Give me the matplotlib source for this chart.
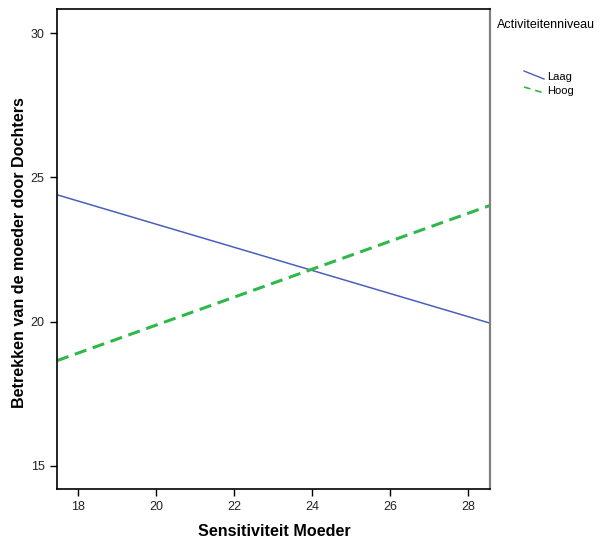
import matplotlib
matplotlib.use("Agg")
import matplotlib.pyplot as plt
from matplotlib.lines import Line2D

plt.rcParams['font.family'] = ['Liberation Sans', 'DejaVu Sans']

sens = [17.45, 28.56]
laag = [24.40, 19.95]
hoog = [18.65, 24.03]
xticks = [18, 20, 22, 24, 26, 28]
yticks = [15, 20, 25, 30]
series_names = ["Laag", "Hoog"]
legend_title = "Activiteitenniveau"

W, H = 609, 540
fig = plt.figure(figsize=(W/100, H/100), dpi=100)
ax = fig.add_axes([57/W, 1-489/H, (490-57)/W, (489-9.3)/H])

blue = "#4a5fba"
green = "#2fb84a"
ax.plot(sens, laag, color=blue, lw=1.1)
ax.plot(sens, hoog, color=green, lw=2.2, dashes=(4, 2.2))

ax.set_xlim(17.45, 28.56)
ax.set_ylim(14.2, 30.83)
ax.set_xticks(xticks)
ax.set_yticks(yticks)
ax.tick_params(labelsize=9, length=5, width=1, colors="black", labelcolor="#222222", pad=4)
for s in ["left", "bottom", "top"]:
    ax.spines[s].set_color("black")
    ax.spines[s].set_linewidth(1.2)
ax.spines["right"].set_color("#808080")
ax.spines["right"].set_linewidth(1.6)

def fx(px): return px / W
def fy(py): return 1 - py / H

fig.text(fx(274), fy(531), "Sensitiviteit Moeder", fontsize=11.6, fontweight="bold", ha="center", va="center")
fig.text(fx(20), fy(253), "Betrekken van de moeder door Dochters", fontsize=11.6, fontweight="bold",
         ha="center", va="center", rotation=90)

fig.text(fx(497), fy(25), legend_title, fontsize=9, va="center", ha="left")
fig.add_artist(Line2D([fx(524), fx(544)], [fy(71), fy(79)], color=blue, lw=1.0, transform=fig.transFigure))
fig.add_artist(Line2D([fx(524), fx(544)], [fy(87), fy(93)], color=green, lw=1.2, dashes=(4, 3), transform=fig.transFigure))
fig.text(fx(547), fy(77), series_names[0], fontsize=8, va="center", ha="left")
fig.text(fx(547), fy(91), series_names[1], fontsize=8, va="center", ha="left")

fig.savefig("out.png", dpi=100)
